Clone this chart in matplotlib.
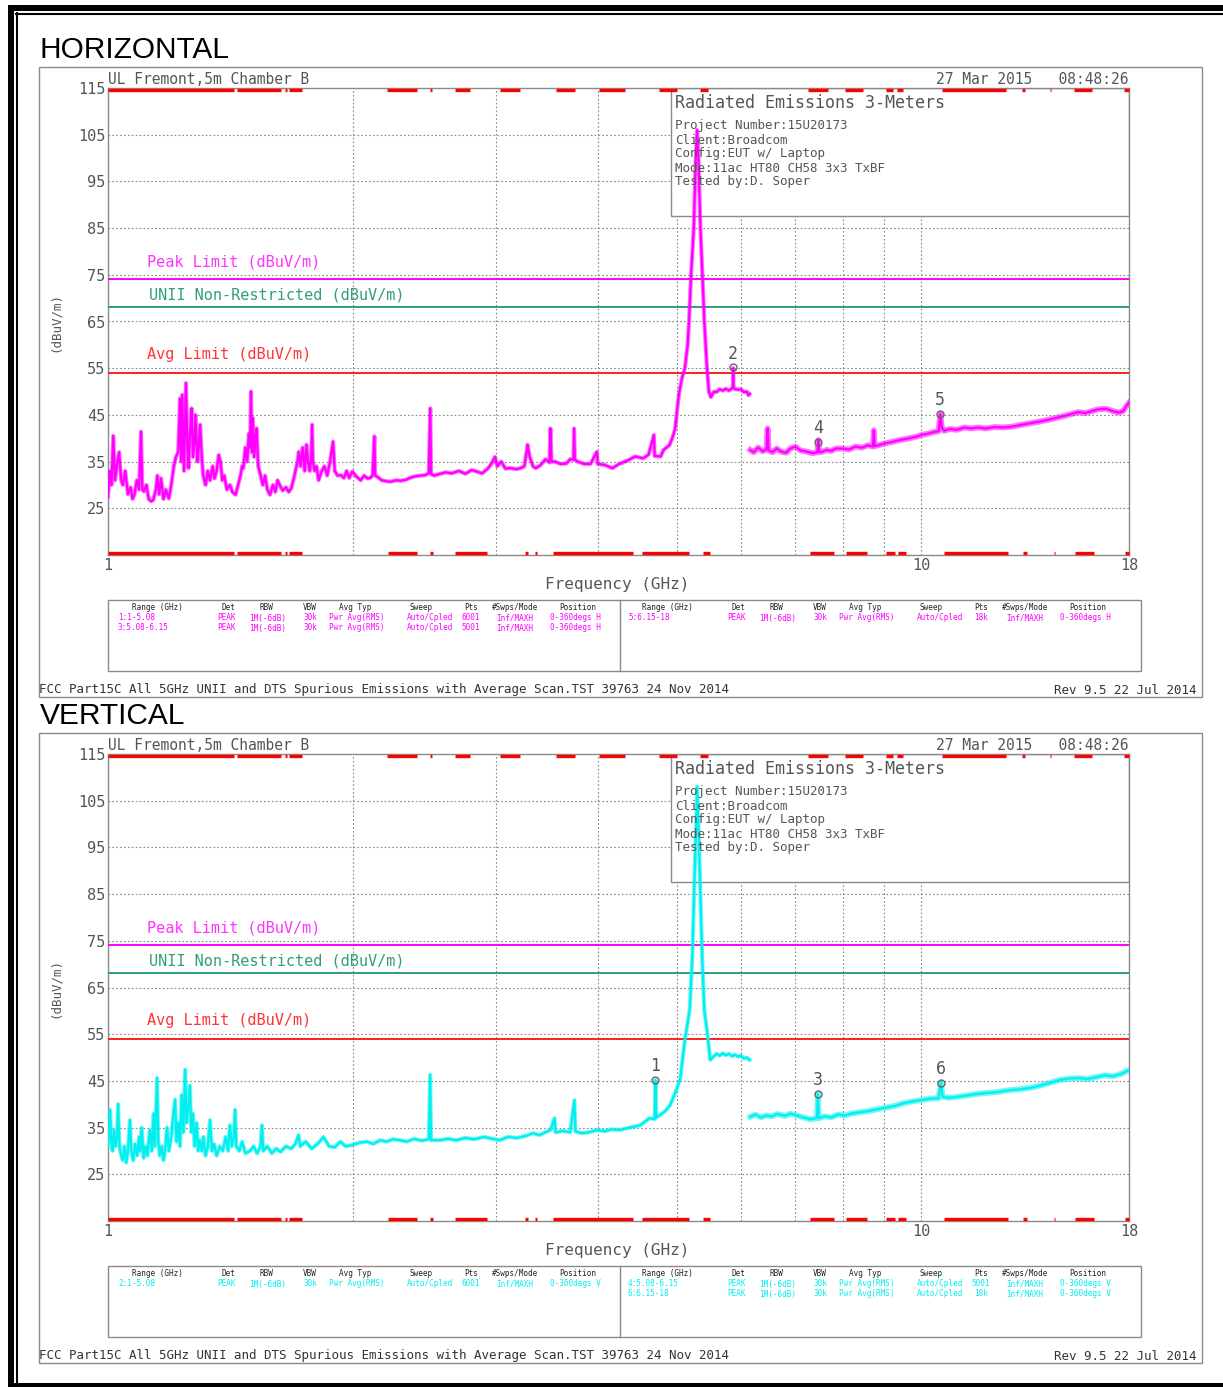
import matplotlib
matplotlib.use("Agg")
import matplotlib.pyplot as plt
from matplotlib.patches import Rectangle
from matplotlib.lines import Line2D

W, H = 1223, 1387
MONO = "DejaVu Sans Mono"
GREY = "#555555"

# ---- data (frequency GHz, level dBuV/m) ----
# horizontal: ranges 1 + 3 (1-6.15 GHz), range 5 (6.15-18 GHz)
horiz_low = [
    (1.000, 27.5), (1.005, 33), (1.010, 30), (1.015, 40.5), (1.020, 31), (1.027, 35), (1.032, 37),
    (1.038, 31), (1.043, 30), (1.050, 33), (1.058, 28), (1.066, 29.5), (1.072, 27), (1.078, 28),
    (1.085, 31), (1.092, 29), (1.098, 41.4), (1.102, 29), (1.107, 28.6), (1.115, 30), (1.122, 27),
    (1.130, 26.5), (1.137, 26.8), (1.145, 29), (1.150, 32), (1.156, 28), (1.162, 31.4), (1.170, 27),
    (1.178, 29), (1.188, 27.1), (1.196, 30), (1.205, 34), (1.212, 36), (1.220, 37.1), (1.226, 48.5),
    (1.230, 35), (1.234, 49.3), (1.240, 33), (1.247, 51.8), (1.252, 38), (1.256, 33.6), (1.262, 42),
    (1.267, 46.4), (1.272, 36), (1.277, 39), (1.281, 45), (1.288, 35), (1.293, 38), (1.298, 42.9),
    (1.304, 36), (1.309, 32.1), (1.318, 30), (1.326, 33), (1.335, 31), (1.345, 34), (1.352, 31.4),
    (1.360, 33), (1.368, 36.4), (1.375, 35), (1.382, 31), (1.390, 32), (1.400, 29), (1.412, 30),
    (1.422, 28.5), (1.435, 27.9), (1.445, 30), (1.455, 32), (1.462, 34), (1.467, 33.6), (1.475, 38),
    (1.483, 35), (1.490, 41), (1.495, 38), (1.499, 50), (1.503, 37), (1.507, 44.3), (1.512, 36),
    (1.518, 40), (1.523, 42.1), (1.530, 34), (1.540, 32.1), (1.550, 30), (1.560, 32), (1.570, 29),
    (1.582, 27.9), (1.595, 30), (1.606, 28.5), (1.616, 31), (1.626, 30), (1.640, 28.8), (1.655, 29.5),
    (1.668, 28.5), (1.680, 29.3), (1.690, 31), (1.700, 33), (1.710, 35), (1.716, 37.1), (1.725, 34),
    (1.735, 38), (1.745, 33), (1.754, 38.6), (1.762, 35), (1.770, 33), (1.778, 36), (1.782, 42.9),
    (1.786, 35), (1.795, 33), (1.805, 34), (1.815, 31), (1.831, 32.9), (1.845, 34), (1.860, 32),
    (1.875, 35), (1.891, 39.3), (1.900, 33), (1.915, 32), (1.933, 32.1), (1.950, 31.5), (1.965, 33),
    (1.980, 31.5), (1.997, 32.9), (2.020, 31.8), (2.045, 31), (2.065, 32), (2.085, 31.4), (2.100, 31.5),
    (2.115, 32), (2.124, 38.5), (2.126, 40.4), (2.130, 32), (2.142, 31.8), (2.170, 31), (2.200, 30.8),
    (2.225, 30.7), (2.26, 31), (2.29, 30.9), (2.323, 31.1), (2.35, 31.5), (2.38, 31.8), (2.42, 32),
    (2.453, 32.1), (2.480, 32.5), (2.490, 46.4), (2.496, 32.3), (2.52, 32), (2.55, 32.3), (2.60, 32.7),
    (2.646, 32.5), (2.70, 33), (2.75, 32.4), (2.80, 33.2), (2.85, 32.8), (2.885, 32.5), (2.93, 33.5),
    (2.96, 34.5), (2.99, 36), (3.01, 34), (3.045, 35), (3.08, 33.5), (3.12, 33.6), (3.18, 33.4),
    (3.215, 33.6), (3.25, 34), (3.28, 38.6), (3.30, 36), (3.33, 34), (3.357, 33.6), (3.40, 34.2),
    (3.45, 35.5), (3.49, 34.8), (3.499, 42.1), (3.51, 35), (3.545, 35), (3.60, 34.5), (3.66, 34.6),
    (3.70, 35.5), (3.735, 35.4), (3.741, 42.1), (3.75, 35.4), (3.781, 35), (3.85, 34.5), (3.92, 34.5),
    (3.99, 37.1), (4.00, 34.5), (4.078, 34.3), (4.17, 33.6), (4.25, 34.5), (4.35, 35.2), (4.448, 36.1),
    (4.55, 35.7), (4.62, 36.5), (4.69, 40.7), (4.70, 36.2), (4.78, 36.1), (4.82, 37.5), (4.90, 38.5),
    (4.94, 40), (4.98, 42), (5.01, 46.3), (5.04, 50), (5.08, 53), (5.12, 55), (5.16, 60), (5.18, 65),
    (5.21, 75), (5.25, 85), (5.28, 100), (5.30, 106), (5.32, 100), (5.35, 85), (5.38, 75), (5.41, 65),
    (5.45, 55), (5.48, 50), (5.51, 48.8), (5.56, 50), (5.60, 49.9), (5.65, 50.5), (5.70, 50.2),
    (5.75, 50.6), (5.80, 50.2), (5.84, 50.6), (5.865, 51), (5.87, 55), (5.875, 51), (5.89, 50.6),
    (5.95, 50.4), (6.00, 50.5), (6.05, 49.9), (6.10, 50), (6.13, 49.2), (6.15, 49.5),
]
horiz_high = [
    (6.16, 37.5), (6.22, 37), (6.30, 38), (6.38, 37.2), (6.45, 37.6), (6.47, 42.1), (6.49, 37.4),
    (6.56, 37), (6.64, 37.8), (6.73, 37.1), (6.82, 36.9), (6.90, 37.8), (7.00, 38.2), (7.10, 37.4),
    (7.20, 37.2), (7.35, 36.8), (7.45, 37), (7.47, 39.6), (7.49, 37), (7.55, 37.1), (7.65, 37.5),
    (7.75, 37.3), (7.85, 37.8), (8.01, 37.8), (8.15, 37.6), (8.30, 38.2), (8.45, 38), (8.60, 38.5),
    (8.72, 38.2), (8.74, 41.7), (8.76, 38.3), (8.90, 38.6), (9.02, 38.9), (9.20, 39.2), (9.40, 39.6),
    (9.66, 40), (9.85, 40.3), (10.00, 40.7), (10.20, 41.0), (10.40, 41.4), (10.50, 41.5), (10.55, 45.2),
    (10.60, 42.2), (10.67, 41.6), (10.85, 42), (11.05, 41.8), (11.30, 42.3), (11.50, 42.1), (11.75, 42.3),
    (12.00, 42.1), (12.30, 42.4), (12.60, 42.3), (12.95, 42.5), (13.30, 42.9), (13.60, 43.2), (14.00, 43.6),
    (14.28, 43.9), (14.60, 44.3), (15.00, 44.8), (15.30, 45.2), (15.60, 45.6), (15.90, 45.4), (16.20, 45.8),
    (16.50, 46.2), (16.87, 46.3), (17.20, 45.8), (17.50, 45.5), (17.70, 45.8), (17.85, 46.8), (18.00, 47.6),
]
# vertical: ranges 2 + 4 (1-6.15 GHz), range 6 (6.15-18 GHz)
vert_low = [
    (1.000, 31), (1.004, 36), (1.006, 38.8), (1.009, 32), (1.013, 30), (1.017, 34.5), (1.022, 31),
    (1.026, 33), (1.029, 40), (1.033, 31), (1.038, 29), (1.043, 28), (1.048, 31), (1.053, 27.5),
    (1.058, 30), (1.064, 36.6), (1.068, 30), (1.074, 28), (1.080, 31.5), (1.086, 29), (1.092, 33),
    (1.095, 30), (1.100, 35), (1.106, 28.5), (1.112, 31), (1.118, 29), (1.126, 34.5), (1.132, 30),
    (1.138, 38), (1.142, 31), (1.149, 45.6), (1.153, 32), (1.158, 29), (1.164, 31), (1.170, 28),
    (1.175, 30), (1.182, 35), (1.188, 30), (1.196, 33), (1.202, 37), (1.209, 41), (1.214, 32),
    (1.220, 36), (1.226, 31), (1.232, 42), (1.238, 34), (1.244, 47.4), (1.249, 36), (1.256, 40),
    (1.261, 44), (1.266, 34), (1.272, 38), (1.278, 31), (1.285, 36), (1.291, 30), (1.297, 32.3),
    (1.304, 30), (1.310, 33), (1.318, 29), (1.327, 31), (1.335, 36.6), (1.342, 30), (1.350, 31.5),
    (1.360, 29), (1.372, 31), (1.384, 30), (1.395, 33), (1.405, 30), (1.412, 35.5), (1.420, 31),
    (1.428, 33), (1.433, 38.8), (1.438, 31), (1.450, 30), (1.462, 32), (1.475, 29.5), (1.495, 30),
    (1.510, 31), (1.525, 29.5), (1.540, 31), (1.546, 35.5), (1.552, 30), (1.570, 31), (1.590, 29.5),
    (1.610, 30.5), (1.630, 29.8), (1.655, 31), (1.680, 30.5), (1.700, 31.5), (1.715, 33.4), (1.723, 31),
    (1.750, 32), (1.780, 30.5), (1.810, 31.5), (1.840, 33), (1.870, 31), (1.900, 30.8), (1.930, 32),
    (1.960, 31), (2.000, 31.3), (2.040, 31.8), (2.080, 32), (2.120, 31.5), (2.160, 32.3), (2.200, 32),
    (2.240, 32.5), (2.285, 32.3), (2.330, 32), (2.380, 32.6), (2.430, 32.2), (2.480, 32.5), (2.489, 46.3),
    (2.496, 32.3), (2.558, 32.3), (2.620, 32.6), (2.680, 32.3), (2.750, 32.8), (2.820, 32.5), (2.900, 33),
    (2.970, 32.6), (3.030, 32.3), (3.100, 33), (3.180, 32.8), (3.260, 33.2), (3.330, 33.8), (3.390, 33.4),
    (3.450, 34), (3.500, 34.5), (3.540, 37), (3.550, 34), (3.620, 34.3), (3.700, 34), (3.745, 40.9),
    (3.755, 34.2), (3.820, 33.8), (3.900, 34), (4.000, 34.5), (4.080, 34.2), (4.150, 34.6), (4.260, 34.5),
    (4.380, 35), (4.510, 35.5), (4.630, 37), (4.700, 36.8), (4.710, 45.2), (4.720, 37.2), (4.770, 37.7),
    (4.840, 38.5), (4.910, 39.8), (4.970, 42), (5.050, 45.2), (5.120, 53.8), (5.190, 60.2), (5.230, 72),
    (5.260, 88), (5.290, 102), (5.300, 108), (5.320, 100), (5.350, 85), (5.380, 70), (5.410, 60),
    (5.450, 55.9), (5.500, 49.5), (5.550, 50.2), (5.600, 50.8), (5.650, 50.4), (5.700, 50.9), (5.750, 50.5),
    (5.800, 50.8), (5.850, 50.3), (5.900, 50.6), (5.950, 50.2), (6.000, 50.4), (6.050, 49.8), (6.100, 50),
    (6.150, 49.5),
]
vert_high = [
    (6.16, 37.3), (6.25, 37.8), (6.35, 37.2), (6.45, 37.6), (6.55, 37.4), (6.65, 37.9), (6.80, 37.5),
    (6.90, 38), (7.00, 37.7), (7.15, 37.2), (7.30, 36.8), (7.44, 37), (7.46, 42.2), (7.48, 37),
    (7.60, 37.4), (7.75, 37.2), (7.90, 37.8), (8.05, 37.6), (8.20, 38), (8.40, 38.3), (8.60, 38.5),
    (8.80, 38.9), (9.00, 39.2), (9.25, 39.6), (9.50, 40.2), (9.75, 40.6), (10.00, 40.9), (10.25, 41.2),
    (10.50, 41.3), (10.57, 44.6), (10.62, 41.6), (10.80, 41.4), (11.10, 41.6), (11.40, 41.9), (11.70, 42.2),
    (12.00, 42.4), (12.40, 42.6), (12.80, 43), (13.20, 43.2), (13.60, 43.5), (14.00, 44), (14.40, 44.6),
    (14.80, 45.2), (15.20, 45.5), (15.60, 45.6), (16.00, 45.4), (16.40, 45.8), (16.80, 46.2), (17.20, 46),
    (17.60, 46.5), (18.00, 47.3),
]

horiz_markers = [("2", 5.87, 55.2), ("4", 7.47, 39.2), ("5", 10.55, 45.2)]
vert_markers = [("1", 4.71, 45.2), ("3", 7.46, 42.2), ("6", 10.57, 44.6)]

peak_limit = 74.0
unii_limit = 68.2
avg_limit = 54.0

# red sweep-status bars along the top and bottom edge (GHz)
top_bars = [(1.0, 1.43), (1.44, 1.63), (1.65, 1.66), (1.67, 1.73), (2.20, 2.40), (2.49, 2.50),
            (2.67, 2.79), (3.03, 3.21), (3.55, 3.75), (4.02, 4.32), (4.76, 5.0), (5.34, 5.46),
            (7.25, 7.67), (8.05, 8.48), (9.06, 9.23), (9.34, 9.49), (10.6, 12.7), (13.3, 13.4),
            (14.4, 14.45), (15.4, 16.2), (17.75, 18.0)]
bottom_bars = [(1.0, 1.43), (1.44, 1.63), (1.65, 1.66), (1.67, 1.73), (2.21, 2.40), (2.49, 2.51),
               (2.67, 2.92), (3.26, 3.28), (3.35, 3.37), (3.52, 4.42), (4.54, 5.18), (5.39, 5.49),
               (7.29, 7.81), (8.07, 8.58), (9.05, 9.27), (9.37, 9.57), (10.67, 12.78), (13.35, 13.5),
               (14.56, 14.6), (15.46, 16.29), (17.8, 18.0)]

y_ticks = [25, 35, 45, 55, 65, 75, 85, 95, 105, 115]
x_ticks = [1, 10, 18]
x_grid = [2, 3, 4, 5, 6, 7, 8, 9, 10]

info_lines = ["Project Number:15U20173", "Client:Broadcom", "Config:EUT w/ Laptop",
              "Mode:11ac HT80 CH58 3x3 TxBF", "Tested by:D. Soper"]

table_header = ["Range (GHz)", "Det", "RBW", "VBW", "Avg Typ", "Sweep", "Pts", "#Swps/Mode", "Position"]
horiz_rows_left = [["1:1-5.08", "PEAK", "1M(-6dB)", "30k", "Pwr Avg(RMS)", "Auto/Cpled", "6001", "Inf/MAXH", "0-360degs H"],
                   ["3:5.08-6.15", "PEAK", "1M(-6dB)", "30k", "Pwr Avg(RMS)", "Auto/Cpled", "5001", "Inf/MAXH", "0-360degs H"]]
horiz_rows_right = [["5:6.15-18", "PEAK", "1M(-6dB)", "30k", "Pwr Avg(RMS)", "Auto/Cpled", "18k", "Inf/MAXH", "0-360degs H"]]
vert_rows_left = [["2:1-5.08", "PEAK", "1M(-6dB)", "30k", "Pwr Avg(RMS)", "Auto/Cpled", "6001", "Inf/MAXH", "0-360degs V"]]
vert_rows_right = [["4:5.08-6.15", "PEAK", "1M(-6dB)", "30k", "Pwr Avg(RMS)", "Auto/Cpled", "5001", "Inf/MAXH", "0-360degs V"],
                   ["6:6.15-18", "PEAK", "1M(-6dB)", "30k", "Pwr Avg(RMS)", "Auto/Cpled", "18k", "Inf/MAXH", "0-360degs V"]]


def fx(x):
    return x / W


def fy(y):
    return 1 - y / H


fig = plt.figure(figsize=(W / 100, H / 100), dpi=100)


def frect(x0, y0, x1, y1, **kw):
    # rectangle in figure pixel coords (y downwards)
    fig.add_artist(Rectangle((fx(x0), fy(y1)), fx(x1) - fx(x0), fy(y0) - fy(y1),
                             transform=fig.transFigure, **kw))


def fline(xs, ys, **kw):
    fig.add_artist(Line2D([fx(x) for x in xs], [fy(y) for y in ys], transform=fig.transFigure, **kw))


def ftext(x, y, s, **kw):
    kw.setdefault("family", MONO)
    kw.setdefault("color", GREY)
    fig.text(fx(x), fy(y), s, **kw)


# page border
frect(8, 5, 1223, 11, facecolor="black", edgecolor="none")
frect(8, 5, 14, 1387, facecolor="black", edgecolor="none")
frect(8, 1383, 1223, 1387, facecolor="black", edgecolor="none")
fline([16, 1223], [13.5, 13.5], color="black", lw=1.5)
fline([16.5, 16.5], [13, 1383], color="black", lw=1.5)


def draw_panel(dy, title, low, high, color, markers, rows_left, rows_right):
    ftext(40, 50 + dy, title, family="Liberation Sans", color="black", fontsize=21.5, va="center")
    frect(39, 67 + dy, 1202, 697 + dy, facecolor="none", edgecolor="#8a8a8a", lw=1)

    ax = fig.add_axes([fx(108), fy(555 + dy), (1129 - 108) / W, (555 - 88) / H])
    ax.set_xscale("log")
    ax.set_xlim(1, 18)
    ax.set_ylim(15, 115)
    for s in ax.spines.values():
        s.set_color("#8a8a8a")
        s.set_linewidth(1)
    ax.set_yticks(y_ticks)
    ax.set_yticklabels([str(v) for v in y_ticks], family=MONO, fontsize=11, color=GREY)
    ax.set_xticks(x_ticks)
    ax.set_xticklabels([str(v) for v in x_ticks], family=MONO, fontsize=11, color=GREY)
    ax.xaxis.set_minor_locator(matplotlib.ticker.NullLocator())
    ax.tick_params(length=0, pad=2)

    for g in x_grid:
        ax.axvline(g, color="#888888", lw=0.8, ls=(0, (1.5, 2)), zorder=1)
    for g in y_ticks[:-1]:
        ax.axhline(g, color="#888888", lw=0.8, ls=(0, (1.5, 2)), zorder=1)

    # info box
    ax.add_patch(Rectangle((0.5514, 0.726), 1 - 0.5514, 0.274, transform=ax.transAxes,
                           facecolor="white", edgecolor="#8a8a8a", lw=1, zorder=2))
    ftext(675, 103 + dy, "Radiated Emissions 3-Meters", fontsize=12, va="center", zorder=3)
    for i, line in enumerate(info_lines):
        ftext(675, 126 + 14 * i + dy, line, fontsize=9, va="center", zorder=3)

    # limits
    ax.axhline(peak_limit, color="#ff00ff", lw=1.4, zorder=3)
    ax.axhline(unii_limit, color="#2f9e7c", lw=1.4, zorder=3)
    ax.axhline(avg_limit, color="#ff2020", lw=1.4, zorder=3)
    ftext(147, 262 + dy, "Peak Limit (dBuV/m)", color="#ff33ff", fontsize=11, va="center")
    ftext(149, 295 + dy, "UNII Non-Restricted (dBuV/m)", color="#2f9e7c", fontsize=11, va="center")
    ftext(147, 354 + dy, "Avg Limit (dBuV/m)", color="#ff3333", fontsize=11, va="center")

    # traces: a wide underlay gives the noise band, a thinner line on top keeps the spikes sharp
    for seg, wide in ((low, 3.0), (high, 4.2)):
        f, v = zip(*seg)
        ax.plot(f, v, color=color, lw=wide, alpha=0.55, zorder=4)
        ax.plot(f, v, color=color, lw=1.6, zorder=4)

    # markers
    for lab, f, v in markers:
        ax.plot(f, v, "o", mfc="none", mec="#666666", ms=5, mew=1, zorder=5)
        ax.text(f, v + 1.0, lab, ha="center", va="bottom", family=MONO, fontsize=12, color=GREY, zorder=5)

    # status bars
    for f0, f1 in top_bars:
        ax.plot([f0, f1], [114.6, 114.6], color="red", lw=2.4, solid_capstyle="butt", clip_on=False, zorder=6)
    for f0, f1 in bottom_bars:
        ax.plot([f0, f1], [15.4, 15.4], color="red", lw=2.4, solid_capstyle="butt", clip_on=False, zorder=6)

    # header / labels
    ftext(108, 79 + dy, "UL Fremont,5m Chamber B", fontsize=10.5, va="center")
    ftext(1129, 79 + dy, "27 Mar 2015   08:48:26", fontsize=10.5, va="center", ha="right")
    ftext(55, 322 + dy, "(dBuV/m)", fontsize=9, va="center", ha="center", rotation=90)
    ftext(617, 585 + dy, "Frequency (GHz)", fontsize=11.5, va="center", ha="center")

    # settings table
    frect(108, 600 + dy, 1141, 671 + dy, facecolor="none", edgecolor="#8a8a8a", lw=1)
    fline([620, 620], [600 + dy, 671 + dy], color="#8a8a8a", lw=1)
    head_x = [157, 228, 266, 310, 355, 421, 471, 515, 578]
    data_x = [118, 227, 267.5, 310, 356.7, 429.5, 471, 515, 575]
    for off, rows in ((0, rows_left), (510, rows_right)):
        for hx, h in zip(head_x, table_header):
            ftext(hx + off, 608 + dy, h, fontsize=5.5, color="#222222", ha="center", va="center")
        for r, row in enumerate(rows):
            for c, (dx, s) in enumerate(zip(data_x, row)):
                ftext(dx + off, 618 + 10 * r + dy, s, fontsize=5.5, color=color,
                      ha="left" if c == 0 else "center", va="center")

    ftext(39, 690 + dy, "FCC Part15C All 5GHz UNII and DTS Spurious Emissions with Average Scan.TST 39763 24 Nov 2014",
          fontsize=9, va="center", color="#333333")
    ftext(1196, 690 + dy, "Rev 9.5 22 Jul 2014", fontsize=9, va="center", ha="right", color="#333333")


draw_panel(0, "HORIZONTAL", horiz_low, horiz_high, "#ff00ff", horiz_markers, horiz_rows_left, horiz_rows_right)
draw_panel(666, "VERTICAL", vert_low, vert_high, "#00f0f0", vert_markers, vert_rows_left, vert_rows_right)

fig.savefig("out.png", dpi=100, facecolor="white")
